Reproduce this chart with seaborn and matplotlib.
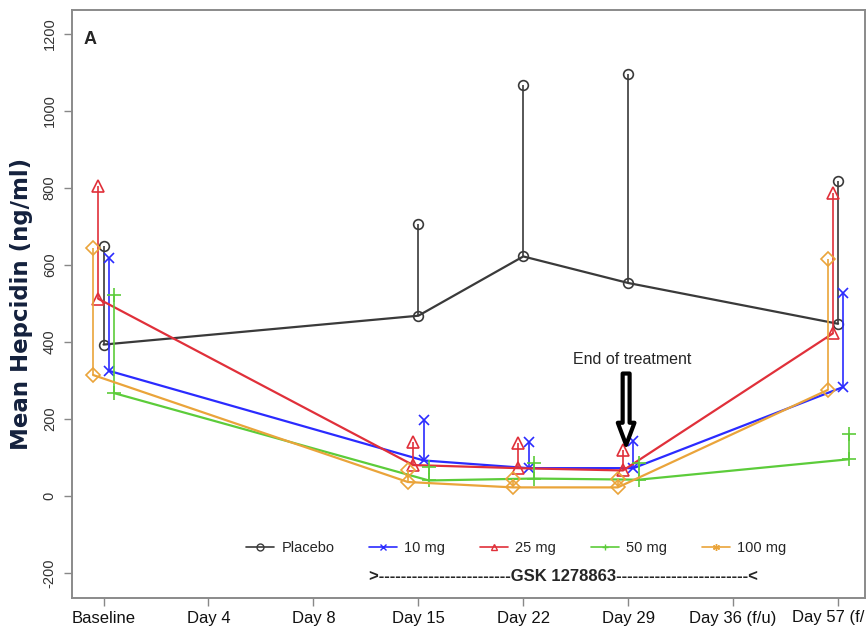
import numpy as np
import pandas as pd
import matplotlib.pyplot as plt
import seaborn as sns

# visit labels on the x axis (evenly spaced, categorical)
visits = ['Baseline', 'Day 4', 'Day 8', 'Day 15', 'Day 22', 'Day 29',
          'Day 36 (f/u)', 'Day 57 (f/']
# visits where hepcidin was measured (index into visits)
measured = [0, 3, 4, 5, 7]

groups = ['Placebo', '10 mg', '25 mg', '50 mg', '100 mg']

# mean and upper error-bar end for each group at the measured visits
placebo_mean = [393, 468, 622, 553, 447]
placebo_upper = [650, 705, 1068, 1095, 818]
mg10_mean = [325, 92, 72, 72, 283]
mg10_upper = [618, 197, 140, 142, 527]
mg25_mean = [512, 80, 72, 66, 422]
mg25_upper = [806, 140, 137, 118, 786]
mg50_mean = [267, 40, 45, 42, 95]
mg50_upper = [522, 76, 86, 86, 160]
mg100_mean = [314, 36, 22, 22, 275]
mg100_upper = [645, 66, 45, 45, 615]

means = [placebo_mean, mg10_mean, mg25_mean, mg50_mean, mg100_mean]
uppers = [placebo_upper, mg10_upper, mg25_upper, mg50_upper, mg100_upper]

# styling
colors = ['#3a3a3a', '#2b2bff', '#e0303a', '#5ccc3a', '#eaa43a']
markers = ['o', 'x', '^', '+', 'D']
legend_markers = ['o', 'x', '^', '+', (6, 2, 0)]
msizes = [7, 7, 8, 10, 7]
dodge = [0.0, 0.05, -0.05, 0.1, -0.1]

rows = []
for g, m, u, d in zip(groups, means, uppers, dodge):
    for vi, mv, uv in zip(measured, m, u):
        rows.append({'group': g, 'visit': vi, 'x': vi + d, 'mean': mv, 'upper': uv})
df = pd.DataFrame(rows)

sns.set_style('ticks')
fig = plt.figure(figsize=(8.68, 6.3), dpi=100)
ax = fig.add_axes([0.083, 0.051, 0.914, 0.933])

arial = ['Liberation Sans', 'DejaVu Sans']

handles = []
for g, c, mk, ms, lmk in zip(groups, colors, markers, msizes, legend_markers):
    sub = df[df['group'] == g]
    sns.lineplot(data=sub, x='x', y='mean', color=c, marker=mk, ms=ms,
                 mfc='none', mec=c, mew=1.2, lw=1.6, ax=ax, legend=False)
    # error bars: mean -> upper, marker repeated at the upper end
    ax.vlines(sub['x'], sub['mean'], sub['upper'], color=c, lw=1.2)
    ax.plot(sub['x'], sub['upper'], ls='none', marker=mk, ms=ms,
            mfc='none', mec=c, mew=1.2)
    h, = ax.plot([], [], color=c, lw=1.2, marker=lmk, ms=5, mfc='none',
                 mec=c, mew=1.0)
    handles.append(h)

ax.set_xlim(-0.3, 7.26)
ax.set_ylim(-265, 1262)
ax.set_xticks(range(len(visits)))
# last label sits against the right edge, so it is drawn a little to the left
ax.set_xticklabels(visits[:-1] + [''], fontsize=12, family=arial, color='#111')
ax.annotate(visits[-1], xy=(len(visits) - 1, 0), xycoords=('data', 'axes fraction'),
            xytext=(-7, -8.5), textcoords='offset points', ha='center', va='top',
            fontsize=12, family=arial, color='#111')
ax.set_yticks([-200, 0, 200, 400, 600, 800, 1000, 1200])
ax.set_yticklabels([str(v) for v in [-200, 0, 200, 400, 600, 800, 1000, 1200]],
                   rotation=90, va='center', fontsize=10.5, color='#333',
                   family=arial)
ax.tick_params(axis='both', length=6, width=1, color='#888')
ax.tick_params(axis='y', pad=5)
ax.set_xlabel('')
ax.set_ylabel('Mean Hepcidin (ng/ml)', fontsize=16.5, fontweight='bold',
              color='#14213d', labelpad=7)

for s in ax.spines.values():
    s.set_visible(True)
    s.set_color('#8a8a8a')
    s.set_linewidth(1.4)

ax.text(0.023, 0.95, 'A', transform=ax.transAxes, fontsize=13,
        fontweight='bold', va='center', ha='center', family=arial)

leg = ax.legend(handles, groups, loc='center', bbox_to_anchor=(0.56, 0.085),
                ncol=5, frameon=False, handlelength=1.9, handletextpad=0.5,
                columnspacing=2.4, prop={'family': arial, 'size': 10.5})

ax.text(0.62, 0.036, '>' + '-' * 24 + 'GSK 1278863' + '-' * 24 + '<',
        transform=ax.transAxes, ha='center', va='center', fontsize=12,
        fontweight='bold', family=arial)

ax.text(5.04, 353, 'End of treatment', ha='center', va='center',
        fontsize=11.5, family=arial)
ax.annotate('', xy=(4.98, 125), xytext=(4.98, 325),
            arrowprops=dict(arrowstyle='simple,head_length=1.6,head_width=1.2,tail_width=0.5',
                            fc='white', ec='black', lw=3))

fig.savefig('out.png', dpi=100)
